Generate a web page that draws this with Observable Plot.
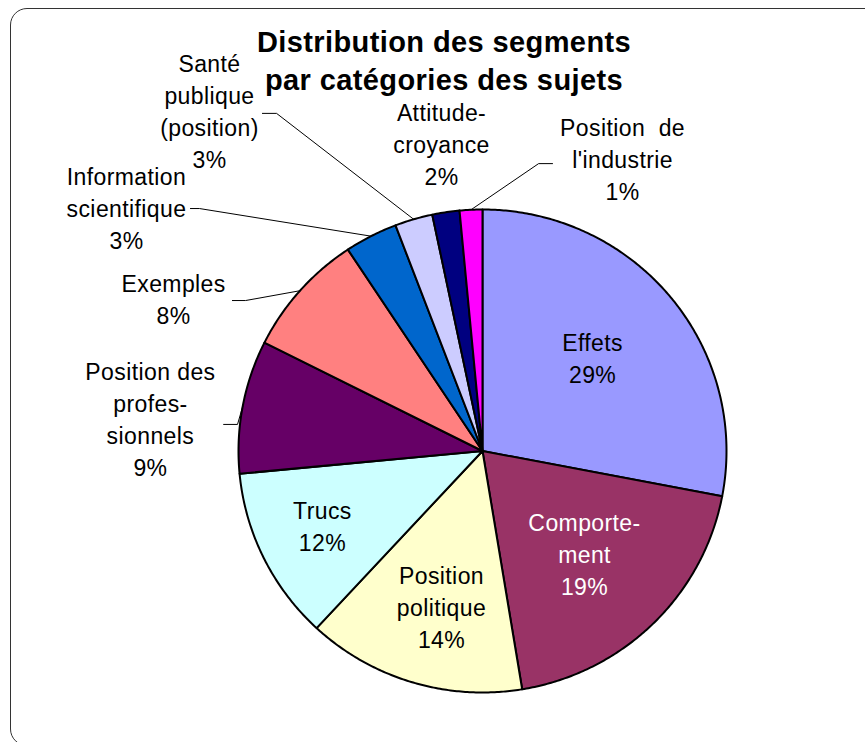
<!DOCTYPE html>
<html><head><meta charset="utf-8">
<script src="https://cdn.jsdelivr.net/npm/d3@7"></script>
<script src="https://cdn.jsdelivr.net/npm/@observablehq/plot@0.6"></script>
<style>
body{margin:0;background:#fff;}
#wrap{position:relative;width:865px;height:742px;overflow:hidden;background:#fff;}
#frame{position:absolute;left:10px;top:8px;width:885px;height:738px;border:1.5px solid #333;border-radius:17px;box-sizing:border-box;}
#chart{position:absolute;left:0;top:0;}
</style></head><body>
<div id="wrap"><div id="frame"></div><div id="chart"></div></div>
<script>
// ---- data ----
const categories = ["Effets","Comportement","Position politique","Trucs","Position des professionnels","Exemples","Information scientifique","Santé publique (position)","Attitude-croyance","Position de l'industrie"];
const values = [28.0, 19.4, 14.5, 11.6, 8.9, 8.3, 3.5, 2.5, 1.8, 1.5];
const pctLabels = ["29%","19%","14%","12%","9%","8%","3%","3%","2%","1%"];
const labelNames = ["Effets","Comporte-\nment","Position\npolitique","Trucs","Position des\nprofes-\nsionnels","Exemples","Information\nscientifique","Santé\npublique\n(position)","Attitude-\ncroyance","Position  de\nl'industrie"];
const colours = ["#9999FF","#993366","#FFFFCC","#CCFFFF","#660066","#FF8080","#0066CC","#CCCCFF","#000080","#FF00FF"];
const titleLines = ["Distribution des segments","par catégories des sujets"];

// ---- layout (in pie radii, y up, relative to pie centre) ----
const W = 865, H = 742, CX = 482, CY = 450.5, RX = 244, RY = 241.5;
const labelAt = [[0.451,0.379],[0.418,-0.433],[-0.168,-0.652],[-0.656,-0.317],[-1.361,0.126],[-1.266,0.623],[-1.459,1.0],[-1.119,1.400],[-0.168,1.265],[0.574,1.203]];
const labelInk = ["#000","#fff","#000","#000","#000","#000","#000","#000","#000","#000"];
const leaders = [null,null,null,null,[[-1.004,0.110],[-1.061,0.110]],[[-0.971,0.623],[-1.025,0.623]],[[-1.160,1.004],[-1.197,1.004]],[[-0.844,1.398],[-0.902,1.398]],null,[[0.230,1.190],[0.287,1.190]]];

const arcs = d3.pie().sort(null)(values);
const polar = (a, r = 1) => ({x: r * Math.sin(a), y: r * Math.cos(a)});

const slicePts = arcs.flatMap((s, i) => {
  const n = Math.max(2, Math.ceil((s.endAngle - s.startAngle) / (Math.PI / 360)));
  const pts = [{...polar(0, 0), cat: categories[i], col: colours[i]}];
  for (let k = 0; k <= n; k++) {
    const a = s.startAngle + (s.endAngle - s.startAngle) * k / n;
    pts.push({...polar(a), cat: categories[i], col: colours[i]});
  }
  return pts;
});

const leaderPts = arcs.flatMap((s, i) => {
  if (!leaders[i]) return [];
  const m = (s.startAngle + s.endAngle) / 2;
  return [{...polar(m), cat: categories[i]},
          ...leaders[i].map(([x, y]) => ({x, y, cat: categories[i]}))];
});

const labels = categories.map((c, i) => ({
  x: labelAt[i][0], y: labelAt[i][1], text: labelNames[i] + "\n" + pctLabels[i], ink: labelInk[i]
}));

const font = "'Liberation Sans', Arial, Helvetica, sans-serif";
const chart = Plot.plot({
  width: W, height: H, margin: 0,
  style: {fontFamily: font, background: "transparent", letterSpacing: "0.4px"},
  x: {domain: [-CX / RX, (W - CX) / RX], range: [0, W], axis: null},
  y: {domain: [-(H - CY) / RY, CY / RY], range: [H, 0], axis: null},
  color: {type: "identity"},
  marks: [
    Plot.line(slicePts, {x: "x", y: "y", z: "cat", fill: "col", stroke: "#000", strokeWidth: 2, curve: "linear-closed", strokeLinejoin: "round"}),
    Plot.line(leaderPts, {x: "x", y: "y", z: "cat", stroke: "#000", strokeWidth: 1, strokeLinejoin: "miter"}),
    Plot.text(labels, {x: "x", y: "y", text: "text", fill: "ink", fontSize: 23, lineHeight: 1.4, lineAnchor: "middle", textAnchor: "middle", fontFamily: font, dy: -3}),
    Plot.text([titleLines.join("\n")], {frameAnchor: "top", text: d => d, dx: 11, dy: 25, fontSize: 29, fontWeight: "bold", lineHeight: 1.31, lineAnchor: "top", fontFamily: font, fill: "#000", style: "letter-spacing:0"})
  ]
});
document.getElementById("chart").appendChild(chart);
</script>
</body></html>
